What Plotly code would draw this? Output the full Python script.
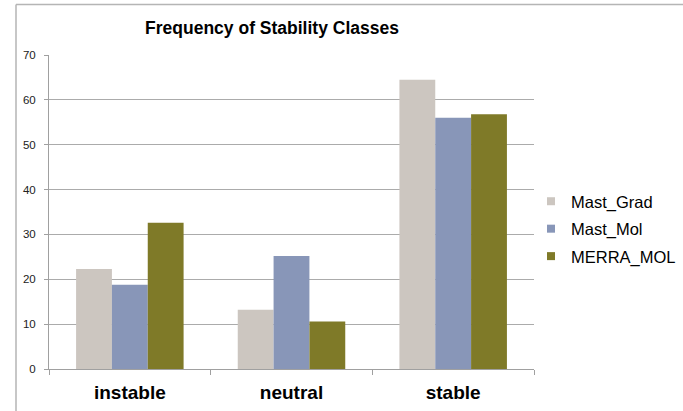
import plotly.graph_objects as go

categories = ["instable", "neutral", "stable"]
mast_grad = [22.3, 13.2, 64.5]
mast_mol = [18.8, 25.2, 56.0]
merra_mol = [32.6, 10.6, 56.8]
series_names = ["Mast_Grad", "Mast_Mol", "MERRA_MOL"]
series_colors = ["#CCC6C0", "#8896B8", "#7F7A28"]
y_ticks = [0, 10, 20, 30, 40, 50, 60, 70]

W, H = 683, 411
L, R, T, B = 49, 149, 55, 42
PW, PH = W - L - R, H - T - B

fig = go.Figure()
for name, vals, col in zip(series_names, [mast_grad, mast_mol, merra_mol], series_colors):
    fig.add_trace(go.Bar(x=categories, y=vals, name=name, showlegend=False,
                         marker=dict(color=col, line=dict(width=0))))
# legend entries with small square symbols
for name, col in zip(series_names, series_colors):
    fig.add_trace(go.Scatter(x=[None], y=[None], mode="markers", name=name, legendgroup=name,
                             marker=dict(symbol="square", size=8, color=col)))

fig.update_layout(
    width=W, height=H,
    margin=dict(l=L, r=R, t=T, b=B, pad=0, autoexpand=False),
    paper_bgcolor="white", plot_bgcolor="white",
    barmode="group", bargap=0.335, bargroupgap=0,
    font=dict(family="Arial, Liberation Sans, sans-serif", color="#000000"),
    title=dict(text="<b>Frequency of Stability Classes</b>",
               font=dict(family="Arial, Liberation Sans", size=17.5, color="#000000"),
               x=272 / W, xanchor="center", y=1 - 28 / H, yanchor="middle"),
    showlegend=True,
    legend=dict(x=(531 - L) / PW, xanchor="left", y=1 - (229 - T) / PH, yanchor="middle",
                font=dict(size=16.5, color="#000000"), tracegroupgap=3, itemwidth=30,
                bgcolor="rgba(0,0,0,0)"),
    xaxis=dict(showgrid=False, showline=True, linecolor="#A0A0A0", linewidth=1, automargin=False,
               ticks="outside", tickson="boundaries", ticklen=5, tickcolor="#A0A0A0",
               tickfont=dict(size=19, color="#000000", family="Arial, Liberation Sans"),
               tickprefix="<b>", ticksuffix="</b>", ticklabelstandoff=6),
    yaxis=dict(range=[0, 70], tickvals=y_ticks, showgrid=True, gridcolor="#ABABAB", gridwidth=1,
               showline=True, linecolor="#A0A0A0", linewidth=1, zeroline=False, automargin=False,
               ticks="outside", ticklen=4, tickcolor="#A0A0A0",
               tickfont=dict(size=11.5, color="#222222"), tickprefix="<b>", ticksuffix="</b>",
               ticklabelstandoff=6),
)

# outer chart border (partial, as in the screenshot)
bx = (16 - L) / PW
by = 1 + (T - 4.5) / PH
fig.add_shape(type="line", xref="paper", yref="paper", x0=bx, x1=bx,
              y0=-(B + 10) / PH, y1=by, line=dict(color="#B5B5B5", width=1.5))
fig.add_shape(type="line", xref="paper", yref="paper", x0=bx, x1=(W + 5 - L) / PW,
              y0=by, y1=by, line=dict(color="#B5B5B5", width=1.5))

fig.write_html("out.html", config={"displayModeBar": False},
               post_script="document.body.style.margin='0';document.body.style.overflow='hidden';")
